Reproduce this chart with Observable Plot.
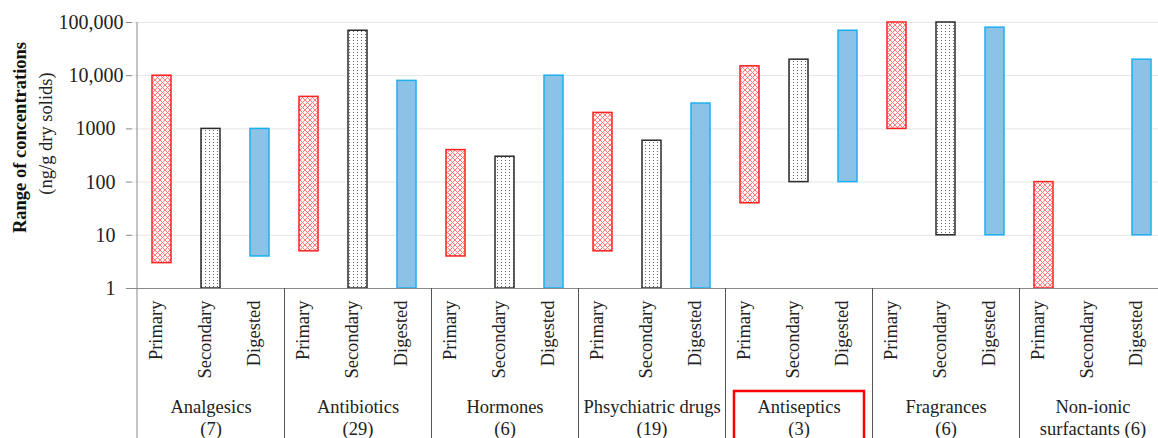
<!DOCTYPE html>
<html><head><meta charset="utf-8">
<script src="https://cdn.jsdelivr.net/npm/d3@7"></script>
<script src="https://cdn.jsdelivr.net/npm/@observablehq/plot@0.6"></script>
<style>
html,body{margin:0;padding:0;background:#fff;overflow:hidden}
svg{overflow:hidden;display:block}
</style></head><body><div id="chart"></div>
<script>
const categories = ["Analgesics","Antibiotics","Hormones","Phsychiatric drugs","Antiseptics","Fragrances","Non-ionic surfactants"];
const labelLine1 = ["Analgesics","Antibiotics","Hormones","Phsychiatric drugs","Antiseptics","Fragrances","Non-ionic"];
const labelLine2 = ["(7)","(29)","(6)","(19)","(3)","(6)","surfactants (6)"];
const stages = ["Primary","Secondary","Digested"];
const primaryMin   = [3, 5, 4, 5, 40, 1000, 1];
const primaryMax   = [10000, 4000, 400, 2000, 15000, 100000, 100];
const secondaryMin = [1, 1, 1, 1, 100, 10, null];
const secondaryMax = [1000, 70000, 300, 600, 20000, 100000, null];
const digestedMin  = [4, 1, 1, 1, 100, 10, 10];
const digestedMax  = [1000, 8000, 10000, 3000, 70000, 80000, 20000];
const ticksPlain = [1, 10, 100, 1000];
const ticksPlainLabels = ["1", "10", "100", "1000"];
const ticksComma = [10000, 100000];
const ticksCommaLabels = ["10,000", "100,000"];
const highlighted = "Antiseptics";

const keys = categories.flatMap(c => stages.map(s => c + "|" + s));
const rows = [];
categories.forEach((c, i) => {
  const mins = [primaryMin[i], secondaryMin[i], digestedMin[i]];
  const maxs = [primaryMax[i], secondaryMax[i], digestedMax[i]];
  stages.forEach((s, j) => {
    if (mins[j] != null) rows.push({key: c + "|" + s, stage: s, lo: mins[j], hi: maxs[j]});
  });
});
const subLabels = keys.map(k => ({key: k, stage: k.split("|")[1]}));
const catLabels = categories.map((c, i) => ({key: c + "|Secondary", l1: labelLine1[i], l2: labelLine2[i]}));
const tickLabelMap = new Map([...ticksPlain.map((t, i) => [t, ticksPlainLabels[i]]), ...ticksComma.map((t, i) => [t, ticksCommaLabels[i]])]);

const barStyle = {
  Primary:   {fill: "url(#hatch)", stroke: "#ff2020"},
  Secondary: {fill: "url(#dots)",  stroke: "#2a2a2a"},
  Digested:  {fill: "#8cc2e6",     stroke: "#1cb0ee"}
};

const defsMark = () => {
  const defs = d3.create("svg:defs");
  const h = defs.append("pattern").attr("id", "hatch").attr("patternUnits", "userSpaceOnUse").attr("width", 5).attr("height", 5);
  h.append("rect").attr("width", 5).attr("height", 5).attr("fill", "#fff6f6");
  h.append("path").attr("d", "M0,0L5,5M5,0L0,5").attr("stroke", "#ff7a7a").attr("stroke-width", 1);
  const d = defs.append("pattern").attr("id", "dots").attr("patternUnits", "userSpaceOnUse").attr("width", 4).attr("height", 3);
  d.append("rect").attr("width", 4).attr("height", 3).attr("fill", "#fff");
  d.append("rect").attr("x", 1).attr("y", 1).attr("width", 1).attr("height", 1).attr("fill", "#666");
  return defs.node();
};

const frameMark = (index, scales, values, dims) => {
  const {x, y} = scales;
  const g = d3.create("svg:g");
  const bw = x(keys[1]) - x(keys[0]);
  const y0 = y(1), yTop = y(100000);
  g.append("line").attr("x1", x(keys[0])).attr("x2", x(keys[0]))
    .attr("y1", yTop).attr("y2", dims.height).attr("stroke", "#888");
  categories.forEach((c, i) => {
    if (i === 0) return;
    const xx = Math.round(x(c + "|Primary")) + 0.5;
    g.append("line").attr("x1", xx).attr("x2", xx).attr("y1", y0).attr("y2", dims.height).attr("stroke", "#555");
  });
  const xa = x(highlighted + "|Primary"), xb = x(highlighted + "|Digested") + bw;
  g.append("rect").attr("x", xa + 9).attr("width", xb - xa - 17)
    .attr("y", y0 + 103).attr("height", 80)
    .attr("fill", "none").attr("stroke", "#ff0000").attr("stroke-width", 2.5);
  return g.node();
};

const bars = stages.map(s => Plot.barY(rows.filter(r => r.stage === s), {
  x: "key", y1: "lo", y2: "hi", insetLeft: 15, insetRight: 15,
  fill: barStyle[s].fill, stroke: barStyle[s].stroke, strokeWidth: 1.5
}));

const chart = Plot.plot({
  width: 1158, height: 438,
  marginLeft: 132, marginRight: 0, marginTop: 22, marginBottom: 150,
  style: {fontFamily: "'Liberation Serif', serif", fontSize: "18.5px", color: "#222", background: "#fff"},
  x: {type: "band", domain: keys, range: [132.5, 1170], padding: 0, axis: null},
  y: {type: "log", domain: [1, 100000], axis: null},
  marks: [
    defsMark,
    Plot.gridY([10, 100, 1000, 10000, 100000], {stroke: "#e6e6e6", strokeOpacity: 1}),
    Plot.axisY(ticksPlain, {tickFormat: d => tickLabelMap.get(d), tickSize: 6, tickPadding: 11, fontSize: 20, stroke: "#888", color: "#222"}),
    Plot.axisY(ticksComma, {tickFormat: d => tickLabelMap.get(d), tickSize: 6, tickPadding: 3, fontSize: 20, stroke: "#888", color: "#222"}),
    ...bars,
    Plot.ruleY([1], {stroke: "#888"}),
    frameMark,
    Plot.text(subLabels, {x: "key", text: "stage", frameAnchor: "bottom", dy: 12, rotate: -90, textAnchor: "end", fontSize: 18.5, fill: "#222"}),
    Plot.text(catLabels, {x: "key", text: "l1", frameAnchor: "bottom", dy: 124, lineAnchor: "bottom", fontSize: 18.5, fill: "#222"}),
    Plot.text(catLabels, {x: "key", text: "l2", frameAnchor: "bottom", dy: 146, lineAnchor: "bottom", fontSize: 18.5, fill: "#222"}),
    Plot.text(["Range of concentrations"], {text: d => d, frameAnchor: "left", textAnchor: "middle", dx: -112, dy: -18, rotate: -90, fontWeight: "bold", fontSize: 18.5, fill: "#111"}),
    Plot.text(["(ng/g dry solids)"], {text: d => d, frameAnchor: "left", textAnchor: "middle", dx: -86, dy: -22, rotate: -90, fontSize: 18.5, fill: "#222"})
  ]
});
document.getElementById("chart").appendChild(chart);
</script></body></html>
